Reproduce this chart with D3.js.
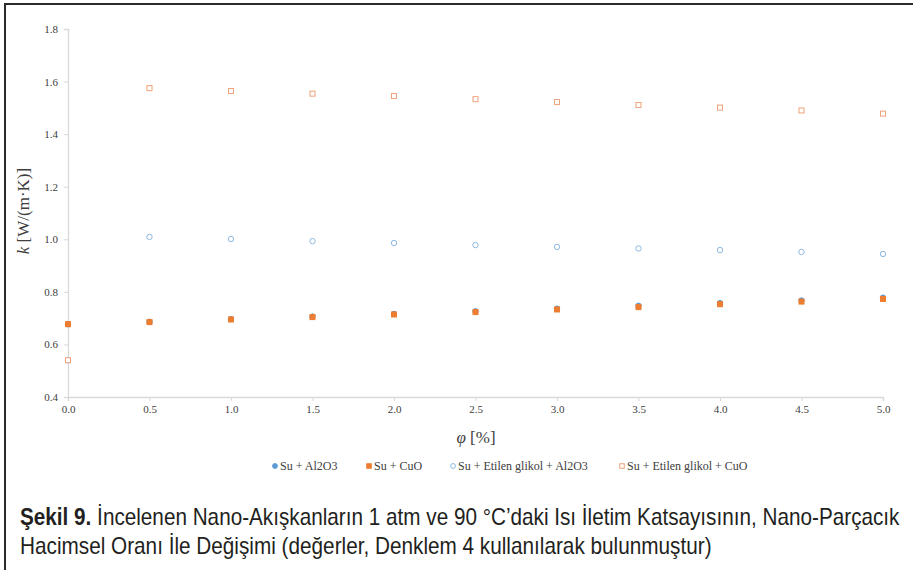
<!DOCTYPE html>
<html>
<head>
<meta charset="utf-8">
<script src="https://cdn.jsdelivr.net/npm/d3@7"></script>
<style>
  body { margin: 0; background: #fff; }
  svg { display: block; }
</style>
</head>
<body>
<svg id="chart" width="913" height="570"></svg>
<script>
// Volume fraction φ [%]
const phi = [0.0, 0.5, 1.0, 1.5, 2.0, 2.5, 3.0, 3.5, 4.0, 4.5, 5.0];

// Thermal conductivity k [W/(m·K)] for each nanofluid
const suAl2O3 = [0.677, 0.686, 0.696, 0.706, 0.716, 0.726, 0.736, 0.747, 0.757, 0.767, 0.778];
const suCuO = [0.677, 0.685, 0.695, 0.704, 0.714, 0.723, 0.733, 0.742, 0.753, 0.763, 0.773];
const egAl2O3 = [0.540, 1.009, 1.001, 0.993, 0.986, 0.978, 0.971, 0.965, 0.959, 0.952, 0.944];
const egCuO = [0.540, 1.575, 1.564, 1.554, 1.545, 1.533, 1.522, 1.511, 1.501, 1.490, 1.478];

const seriesNames = ["Su + Al2O3", "Su + CuO", "Su + Etilen glikol + Al2O3", "Su + Etilen glikol + CuO"];

const xTicks = [0.0, 0.5, 1.0, 1.5, 2.0, 2.5, 3.0, 3.5, 4.0, 4.5, 5.0];
const yTicks = [0.4, 0.6, 0.8, 1.0, 1.2, 1.4, 1.6, 1.8];

const captionBold = "Şekil 9.";
const captionLine1 = " İncelenen Nano-Akışkanların 1 atm ve 90 °C’daki Isı İletim Katsayısının, Nano-Parçacık";
const captionLine2 = "Hacimsel Oranı İle Değişimi (değerler, Denklem 4 kullanılarak bulunmuştur)";

const series = [
  { name: seriesNames[0], values: suAl2O3, shape: "circle", fill: "#5b9bd5", stroke: "#5b9bd5" },
  { name: seriesNames[1], values: suCuO, shape: "square", fill: "#ed7d31", stroke: "#ed7d31" },
  { name: seriesNames[2], values: egAl2O3, shape: "circle", fill: "#fff", stroke: "#8fb9e2" },
  { name: seriesNames[3], values: egCuO, shape: "square", fill: "#fff", stroke: "#eea27a" }
];

const svg = d3.select("#chart");
const axisColor = "#d9d9d9";
const labelColor = "#404040";
const serif = "'Liberation Serif', 'Times New Roman', serif";

// Outer frame: top and left rules
svg.append("path")
  .attr("d", "M5,570 V4 H913")
  .attr("fill", "none")
  .attr("stroke", "#2b2b2b")
  .attr("stroke-width", 2);

const x = d3.scaleLinear().domain([0, 5]).range([68, 883]);
const y = d3.scaleLinear().domain([0.4, 1.8]).range([397, 29]);

// Y axis
const yAxis = svg.append("g")
  .attr("transform", `translate(${x(0)},0)`)
  .call(d3.axisLeft(y).tickValues(yTicks).tickFormat(d3.format(".1f")).tickSize(4).tickPadding(6));
yAxis.select(".domain").attr("stroke", axisColor).attr("stroke-width", 1.3);
yAxis.selectAll(".tick line").attr("stroke", axisColor);
yAxis.selectAll(".tick text")
  .attr("fill", labelColor)
  .style("font-family", serif)
  .style("font-size", "11px");

// X axis
const xAxis = svg.append("g")
  .attr("transform", `translate(0,${y(0.4)})`)
  .call(d3.axisBottom(x).tickValues(xTicks).tickFormat(d3.format(".1f")).tickSize(4).tickPadding(4));
xAxis.select(".domain").attr("stroke", axisColor).attr("stroke-width", 1.5);
xAxis.selectAll(".tick line").attr("stroke", axisColor);
xAxis.selectAll(".tick text")
  .attr("fill", labelColor)
  .style("font-family", serif)
  .style("font-size", "11px");

// Markers
function drawMarker(g, shape, cx, cy, fill, stroke, size) {
  if (shape === "circle") {
    g.append("circle")
      .attr("cx", cx).attr("cy", cy).attr("r", size / 2 - 0.3)
      .attr("fill", fill).attr("stroke", stroke).attr("stroke-width", 1);
  } else {
    g.append("rect")
      .attr("x", cx - size / 2 + 0.5).attr("y", cy - size / 2 + 0.5)
      .attr("width", size - 1).attr("height", size - 1)
      .attr("fill", fill).attr("stroke", stroke).attr("stroke-width", 1);
  }
}

const marks = svg.append("g");
series.forEach(s => {
  const g = marks.append("g").attr("class", "series");
  s.values.forEach((v, i) => drawMarker(g, s.shape, x(phi[i]), y(v), s.fill, s.stroke, 6));
});

// Axis titles
const xTitle = svg.append("text")
  .attr("x", 476).attr("y", 443)
  .attr("text-anchor", "middle")
  .attr("fill", labelColor)
  .style("font-family", serif)
  .style("font-size", "17px");
xTitle.append("tspan").attr("font-style", "italic").text("φ");
xTitle.append("tspan").text(" [%]");

const yTitle = svg.append("text")
  .attr("transform", "translate(29,211) rotate(-90)")
  .attr("text-anchor", "middle")
  .attr("fill", labelColor)
  .style("font-family", serif)
  .style("font-size", "17px");
yTitle.append("tspan").attr("font-style", "italic").text("k");
yTitle.append("tspan").text(" [W/(m·K)]");

// Legend
const legendX = [275, 369, 453, 622];
const legend = svg.append("g");
series.forEach((s, i) => {
  const g = legend.append("g");
  drawMarker(g, s.shape, legendX[i], 466, s.fill, s.stroke, 5.5);
  g.append("text")
    .attr("x", legendX[i] + 5).attr("y", 470)
    .attr("fill", labelColor)
    .style("font-family", serif)
    .style("font-size", "12px")
    .text(s.name);
});

// Caption, condensed horizontally to a fixed line width
const sans = "'Liberation Sans Narrow', 'Arial Narrow', 'Liberation Sans', Arial, sans-serif";
function captionLine(yPos, width, build) {
  const t = svg.append("text")
    .attr("x", 0).attr("y", 0)
    .attr("fill", "#231f20")
    .style("font-family", sans)
    .style("font-size", "23px");
  build(t);
  const natural = t.node().getComputedTextLength();
  t.attr("transform", `translate(20,${yPos}) scale(${width / natural},1)`);
}
captionLine(525, 880, t => {
  t.append("tspan").attr("font-weight", "bold").text(captionBold);
  t.append("tspan").text(captionLine1);
});
captionLine(554, 692, t => t.text(captionLine2));
</script>
</body>
</html>
